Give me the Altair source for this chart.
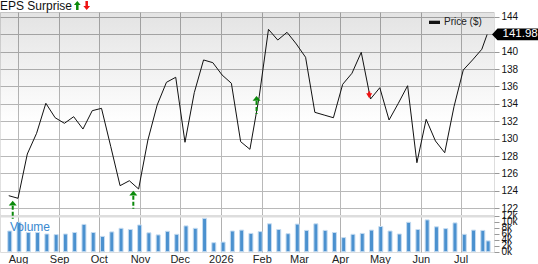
import altair as alt
import pandas as pd

# ---------------- data ----------------
week_dates = pd.date_range("2025-07-25", periods=52, freq="7D").strftime("%Y-%m-%d").tolist() + ["2026-07-21"]
prices = [123.45, 123.15, 128.24, 130.62, 134.07, 132.41, 131.77, 132.53, 131.11, 133.22,
          133.49, 129.08, 124.60, 125.17, 124.22, 129.85, 133.87, 136.48, 137.06, 129.59,
          135.29, 139.05, 138.74, 137.32, 136.37, 129.66, 128.78, 134.83, 142.57, 141.34,
          142.23, 140.89, 139.36, 133.03, 132.72, 132.41, 136.25, 137.52, 139.93, 134.56,
          135.86, 132.15, 134.07, 136.09, 127.24, 132.23, 129.74, 128.39, 133.68, 137.90,
          139.05, 140.28, 141.98]
volumes_k = [6.9, 9.8, 6.4, 6.4, 5.9, 5.7, 5.9, 6.4, 9.1, 6.4,
             5.1, 6.6, 7.8, 7.4, 8.9, 6.3, 5.6, 6.8, 5.8, 8.6,
             7.8, 11.1, 3.0, 3.2, 6.9, 7.2, 6.1, 6.7, 9.3, 7.4,
             6.0, 9.2, 7.1, 9.3, 7.1, 6.4, 4.7, 5.8, 6.1, 7.2,
             8.4, 6.9, 5.9, 9.8, 7.4, 10.6, 8.3, 7.7, 9.6, 5.8,
             7.2, 7.1, 3.6]
beat_dates = ["2025-07-28", "2025-10-27", "2026-01-28"]
beat_levels = [122.87, 124.02, 134.91]
miss_dates = ["2026-04-23"]
miss_levels = [134.64]
month_starts = ["2025-08-01", "2025-09-01", "2025-10-01", "2025-11-01", "2025-12-01", "2026-01-01",
                "2026-02-01", "2026-03-01", "2026-04-01", "2026-05-01", "2026-06-01", "2026-07-01"]
price_ticks = [122, 124, 126, 128, 130, 132, 134, 136, 138, 140, 142, 144]
volume_ticks = [0, 2000, 4000, 6000, 8000, 10000, 12000]
last_price = [141.98]

W, H = 494, 240
GREEN = "#0b8a0b"
RED = "#ee1111"
FONT = "Liberation Sans"
GRID = "#b0b0b0"

weekly = pd.DataFrame({"date": week_dates, "price": prices,
                       "volume": [v * 1000 for v in volumes_k]})
beats = pd.DataFrame({"date": beat_dates, "tip": beat_levels})
misses = pd.DataFrame({"date": miss_dates, "tip": miss_levels})
tag = pd.DataFrame({"p": last_price, "label": [f"{last_price[0]:.2f}"]})
one = alt.Data(values=[{}])

# ---------------- scales / axes ----------------
XS = alt.Scale(type="utc", domain=[alt.DateTime(year=2025, month=7, date=22, hours=4, utc=True),
                                   alt.DateTime(year=2026, month=7, date=22, hours=10, utc=True)])
XAX = alt.Axis(title=None,
               values=[alt.DateTime(year=int(m[:4]), month=int(m[5:7]), date=1, utc=True) for m in month_starts],
               labelExpr="utcFormat(datum.value, '%m') == '01' ? utcFormat(datum.value, '%Y') : utcFormat(datum.value, '%b')",
               ticks=False, domain=False, grid=True, gridColor=GRID, gridWidth=1, gridOpacity=1,
               labelFontSize=11, labelColor="#222222", labelPadding=1, labelFont=FONT)
PS = alt.Scale(domain=[116.977, 144.563], nice=False, zero=False)
PAX = alt.Axis(orient="right", title=None, values=price_ticks, grid=True, gridColor=GRID, gridWidth=1,
               gridOpacity=1, domain=False, tickSize=5, tickColor="#999999", labelFontSize=10,
               labelColor="#111111", labelPadding=2, labelFont=FONT,
               labelExpr="datum.value == 142 ? '' : datum.label")
VS = alt.Scale(domain=[-100, 79900], nice=False, zero=False)
VAX = alt.Axis(orient="right", title=None, values=volume_ticks, format="~s", grid=False, domain=False,
               tickSize=5, tickColor="#999999", labelFontSize=10, labelColor="#111111",
               labelPadding=2, labelFont=FONT, labelOverlap=False)


def xe(field):
    return alt.X(f"{field}:T", scale=XS, axis=XAX)


def pe(field):
    return alt.Y(f"{field}:Q", scale=PS, axis=PAX)


def ve(field):
    return alt.Y(f"{field}:Q", scale=VS, axis=VAX)


# ---------------- volume group ----------------
shade = alt.Gradient(gradient="linear", x1=0, y1=0, x2=0, y2=1,
                     stops=[alt.GradientStop(offset=0, color="#000000"),
                            alt.GradientStop(offset=0.55, color="#ffffff")])
bg = alt.Chart(one).mark_rect(fill=shade, fillOpacity=0.11, strokeWidth=0).encode(
    x=alt.value(0), x2=alt.value(W), y=alt.value(0), y2=alt.value(202))
vband = alt.Chart(one).mark_rect(color="#dddddd").encode(
    x=alt.value(0), x2=alt.value(W), y=alt.value(203), y2=alt.value(205.5))
bars = alt.Chart(weekly).mark_bar(size=4, color="#4b91cf", stroke="#c6dcf1", strokeWidth=1, xOffset=1).encode(
    x=xe("date"), y=ve("volume"), y2=alt.Y2(datum=0))
vol_label = alt.Chart(one).mark_text(align="left", baseline="middle", fontSize=12, color="#3a89d0", font=FONT).encode(
    x=alt.value(10), y=alt.value(215.3), text=alt.value("Volume"))
vol_group = alt.layer(bg, vband, bars, vol_label)

# ---------------- price group ----------------
line = alt.Chart(weekly).mark_line(color="#111111", strokeWidth=1).encode(
    x=xe("date"), y=pe("price"))
beat_shaft = alt.Chart(beats).mark_rule(color=GREEN, strokeWidth=2, strokeDash=[4, 2], yOffset=5, y2Offset=18).encode(
    x=xe("date"), y=pe("tip"), y2=alt.Y2("tip"))
beat_head = alt.Chart(beats).mark_point(shape="M0,0L1,1.2L-1,1.2Z", filled=True, size=64, color=GREEN,
                                        opacity=1, strokeWidth=0).encode(x=xe("date"), y=pe("tip"))
miss_head = alt.Chart(misses).mark_point(shape="M0,0L1,-1.7L0.35,-1.7L0.35,-2.3L-0.35,-2.3L-0.35,-1.7L-1,-1.7Z",
                                         filled=True, size=36, color=RED, opacity=1, strokeWidth=0).encode(
    x=xe("date"), y=pe("tip"))

eps_text = alt.Chart(one).mark_text(align="left", baseline="middle", fontSize=12, color="#111111", font=FONT).encode(
    x=alt.value(0), y=alt.value(-6.3), text=alt.value("EPS Surprise"))
eps_up = alt.Chart(one).mark_point(shape="M0,-1L0.75,-0.1L0.28,-0.1L0.28,1L-0.28,1L-0.28,-0.1L-0.75,-0.1Z",
                                   filled=True, size=81, color=GREEN, opacity=1, strokeWidth=0).encode(
    x=alt.value(77.3), y=alt.value(-6.5))
eps_down = alt.Chart(one).mark_point(shape="M0,1L0.75,0.1L0.28,0.1L0.28,-1L-0.28,-1L-0.28,0.1L-0.75,0.1Z",
                                     filled=True, size=81, color=RED, opacity=1, strokeWidth=0).encode(
    x=alt.value(86.7), y=alt.value(-6.5))
leg_rect = alt.Chart(one).mark_rect(color="#111111").encode(
    x=alt.value(429), x2=alt.value(440), y=alt.value(8.7), y2=alt.value(12))
leg_text = alt.Chart(one).mark_text(align="left", baseline="middle", fontSize=10, color="#222222", font=FONT).encode(
    x=alt.value(444), y=alt.value(10.4), text=alt.value("Price ($)"))
tag_shape = alt.Chart(tag).mark_point(shape="M-1,0L-0.77,-0.245L1,-0.245L1,0.245L-0.77,0.245Z", filled=True,
                                      size=2304, color="#000000", opacity=1, strokeWidth=0).encode(
    x=alt.value(516), y=pe("p"))
tag_text = alt.Chart(tag).mark_text(align="left", baseline="middle", fontSize=11.5, color="#ffffff", font=FONT).encode(
    x=alt.value(502.5), y=pe("p"), text="label:N")
price_group = alt.layer(line, beat_shaft, beat_head, miss_head, eps_text, eps_up, eps_down,
                        leg_rect, leg_text, tag_shape, tag_text)

chart = alt.layer(vol_group, price_group).resolve_scale(y="independent").resolve_axis(y="independent").properties(
    width=W, height=H,
    padding={"left": 0, "top": 12, "right": 44, "bottom": 12},
    autosize=alt.AutoSizeParams(type="none"),
).configure_view(stroke=None).configure(font=FONT)

chart.save("out.html", embed_options={"renderer": "svg", "actions": False})
